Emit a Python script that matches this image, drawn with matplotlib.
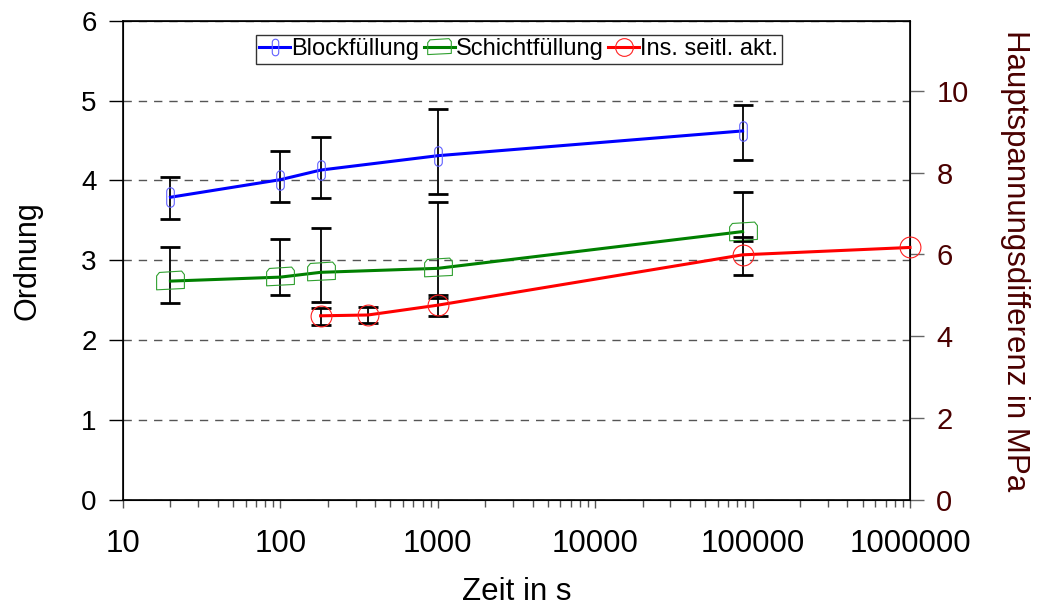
import matplotlib.pyplot as plt
import numpy as np
from matplotlib.path import Path

plt.rcParams['font.family'] = ['Liberation Sans', 'DejaVu Sans']

# Zeit in s
t_block = [20, 100, 180, 1000, 86400]
t_schicht = [20, 100, 180, 1000, 86400]
t_ins = [180, 360, 1000, 86400, 1000000]

# Ordnung (linke Achse)
block = [3.79, 4.01, 4.13, 4.31, 4.62]
block_hi = [4.04, 4.37, 4.54, 4.90, 4.95]
block_lo = [3.52, 3.73, 3.78, 3.83, 4.26]

schicht = [2.74, 2.79, 2.85, 2.90, 3.36]
schicht_hi = [3.17, 3.27, 3.40, 3.73, 3.86]
schicht_lo = [2.46, 2.57, 2.48, 2.53, 3.24]

# Hauptspannungsdifferenz in MPa (rechte Achse)
ins = [4.50, 4.52, 4.76, 5.99, 6.17]
ins_hi = [4.68, 4.72, 5.00, 6.43, np.nan]
ins_lo = [4.28, 4.33, 4.50, 5.50, np.nan]

dark_red = '#4a0000'

# thin capsule marker for Blockfüllung
th = np.linspace(0, np.pi, 20)
cap_top = np.column_stack([0.35 * np.cos(th), 0.55 + 0.35 * np.sin(th)])
cap_bot = np.column_stack([-0.35 * np.cos(th), -0.55 - 0.35 * np.sin(th)])
capsule = Path(np.vstack([cap_top, cap_bot, cap_top[:1]]), closed=True)

# flat box marker for Schichtfüllung
box = Path([(-1, -0.6), (1, -0.5), (1, 0.5), (0.8, 0.75), (-0.8, 0.65),
            (-1, 0.4), (-1, -0.6)], closed=True)


def err(y, hi, lo):
    y = np.array(y)
    return [y - np.array(lo), np.array(hi) - y]


fig = plt.figure(figsize=(10.48, 6.12), dpi=100)
ax = fig.add_axes([0.1174, 0.183, 0.7509, 0.7832])
ax2 = ax.twinx()

ekw = dict(fmt='none', ecolor='black', elinewidth=1.3, capsize=7.5, capthick=2, zorder=3)
ax.errorbar(t_block, block, yerr=err(block, block_hi, block_lo), **ekw)
ax.errorbar(t_schicht, schicht, yerr=err(schicht, schicht_hi, schicht_lo), **ekw)
ax2.errorbar(t_ins, ins, yerr=err(ins, ins_hi, ins_lo), **ekw)

l1, = ax.plot(t_block, block, color='#0000ff', lw=2.2, marker=capsule, ms=14,
              mfc='none', mec='#6060ff', mew=0.8, zorder=4, label='Blockfüllung')
l2, = ax.plot(t_schicht, schicht, color='#008000', lw=2.2, marker=box, ms=20,
              mfc='none', mec='#30a030', mew=0.8, zorder=4, label='Schichtfüllung')
l3, = ax2.plot(t_ins, ins, color='#ff0000', lw=2.2, marker='o', ms=15,
               mfc='none', mec='#ff2020', mew=0.8, zorder=4, clip_on=False,
               label='Ins. seitl. akt.')

ax.set_xscale('log')
ax.set_xlim(10, 1e6)
ax.set_ylim(0, 6)
ax2.set_ylim(0, 11.71)
ax.set_yticks([0, 1, 2, 3, 4, 5, 6])
ax2.set_yticks([0, 2, 4, 6, 8, 10])
ax.set_xticks([10, 100, 1000, 10000, 100000, 1000000])
ax.set_xticklabels(['10', '100', '1000', '10000', '100000', '1000000'])

ax.yaxis.grid(True, linestyle=(0, (6, 5)), color='#555555', lw=1)
ax.set_axisbelow(True)

ax.tick_params(axis='y', direction='out', length=10, width=1, labelsize=20, pad=9)
ax.tick_params(axis='x', which='major', direction='out', length=6, width=1,
               labelsize=22.5, pad=15, color='#555555')
ax.tick_params(axis='x', which='minor', direction='out', length=5, width=1, color='#555555')
ax2.tick_params(axis='y', direction='out', length=10, width=1, labelsize=21,
                labelcolor=dark_red, color='#666666', pad=9)

for s in ['left', 'bottom', 'top']:
    ax.spines[s].set_linewidth(1.2)
ax2.spines['right'].set_linewidth(1.2)

ax.set_xlabel('Zeit in s', fontsize=22.5, labelpad=13)
ax.set_ylabel('Ordnung', fontsize=22, labelpad=28)
ax2.set_ylabel('Hauptspannungsdifferenz in MPa', fontsize=22.5, color=dark_red,
               rotation=270, labelpad=44)

leg = ax.legend(handles=[l1, l2, l3], loc='upper center', bbox_to_anchor=(0.503, 0.971),
                ncol=3, fontsize=17, frameon=True, fancybox=False, edgecolor='black',
                handlelength=1.3, handletextpad=0.05, columnspacing=0.2,
                borderpad=0.15, borderaxespad=0, markerscale=0.85)
leg.get_frame().set_linewidth(1.0)
leg.set_zorder(10)

fig.savefig('out.png', dpi=100)
